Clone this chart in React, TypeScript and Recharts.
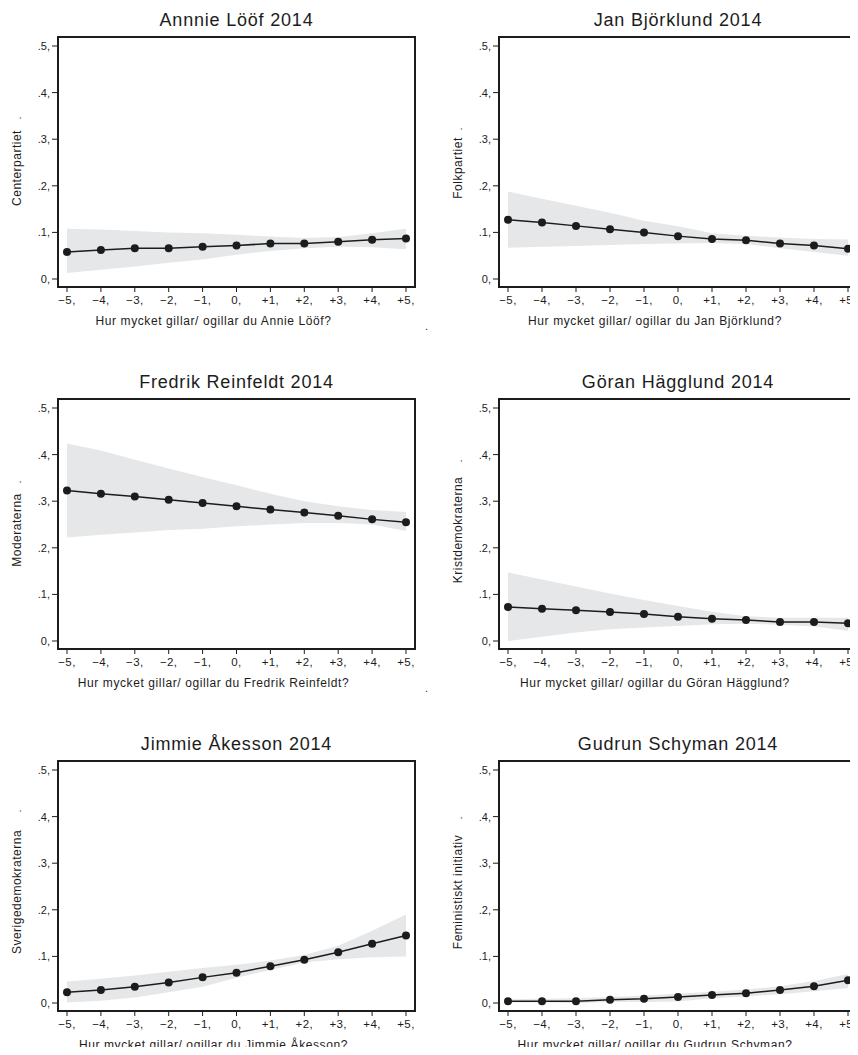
import { ComposedChart, Area, Line, XAxis, YAxis } from 'recharts'

const SCALE = [-5, -4, -3, -2, -1, 0, 1, 2, 3, 4, 5]
const X_TICK_LABELS = ['−5,', '−4,', '−3,', '−2,', '−1,', '0,', '+1,', '+2,', '+3,', '+4,', '+5,']
const Y_TICKS = [0, 0.1, 0.2, 0.3, 0.4, 0.5]
const Y_TICK_LABELS = ['0,', '.1,', '.2,', '.3,', '.4,', '.5,']

const TITLES = [
  'Annnie Lööf 2014',
  'Jan Björklund 2014',
  'Fredrik Reinfeldt 2014',
  'Göran Hägglund 2014',
  'Jimmie Åkesson 2014',
  'Gudrun Schyman 2014',
]
const PARTIES = [
  'Centerpartiet',
  'Folkpartiet',
  'Moderaterna',
  'Kristdemokraterna',
  'Sverigedemokraterna',
  'Feministiskt initiativ',
]
const LEADERS = [
  'Annie Lööf',
  'Jan Björklund',
  'Fredrik Reinfeldt',
  'Göran Hägglund',
  'Jimmie Åkesson',
  'Gudrun Schyman',
]

// predicted share + 95% band
const LOOF_EST = [0.058, 0.062, 0.066, 0.066, 0.069, 0.072, 0.076, 0.076, 0.08, 0.084, 0.087]
const LOOF_LO = [0.013, 0.02, 0.027, 0.035, 0.042, 0.052, 0.06, 0.066, 0.069, 0.068, 0.064]
const LOOF_HI = [0.108, 0.106, 0.103, 0.1, 0.098, 0.095, 0.091, 0.088, 0.09, 0.098, 0.108]

const BJORKLUND_EST = [0.127, 0.121, 0.114, 0.107, 0.1, 0.092, 0.086, 0.083, 0.076, 0.072, 0.065]
const BJORKLUND_LO = [0.067, 0.069, 0.071, 0.073, 0.075, 0.076, 0.077, 0.075, 0.066, 0.058, 0.05]
const BJORKLUND_HI = [0.188, 0.172, 0.157, 0.142, 0.125, 0.113, 0.098, 0.093, 0.089, 0.086, 0.085]

const REINFELDT_EST = [0.323, 0.316, 0.31, 0.303, 0.296, 0.289, 0.282, 0.276, 0.269, 0.261, 0.255]
const REINFELDT_LO = [0.222, 0.228, 0.233, 0.238, 0.241, 0.246, 0.25, 0.253, 0.253, 0.25, 0.236]
const REINFELDT_HI = [0.424, 0.409, 0.389, 0.37, 0.352, 0.334, 0.316, 0.3, 0.289, 0.281, 0.277]

const HAGGLUND_EST = [0.073, 0.069, 0.066, 0.062, 0.058, 0.052, 0.048, 0.045, 0.041, 0.041, 0.038]
const HAGGLUND_LO = [0.0, 0.009, 0.018, 0.025, 0.029, 0.032, 0.036, 0.037, 0.035, 0.031, 0.022]
const HAGGLUND_HI = [0.147, 0.132, 0.117, 0.102, 0.088, 0.075, 0.063, 0.053, 0.05, 0.05, 0.05]

const AKESSON_EST = [0.023, 0.028, 0.035, 0.044, 0.055, 0.065, 0.079, 0.093, 0.109, 0.127, 0.145]
const AKESSON_LO = [0.001, 0.005, 0.012, 0.023, 0.035, 0.054, 0.071, 0.087, 0.094, 0.098, 0.1]
const AKESSON_HI = [0.046, 0.052, 0.059, 0.067, 0.075, 0.082, 0.091, 0.103, 0.123, 0.155, 0.19]

const SCHYMAN_EST = [0.004, 0.004, 0.004, 0.007, 0.009, 0.013, 0.017, 0.021, 0.028, 0.036, 0.049]
const SCHYMAN_LO = [0.001, 0.001, 0.0, 0.002, 0.002, 0.003, 0.01, 0.014, 0.019, 0.025, 0.032]
const SCHYMAN_HI = [0.008, 0.009, 0.01, 0.013, 0.016, 0.02, 0.024, 0.029, 0.036, 0.047, 0.062]

const SERIES = [
  [LOOF_EST, LOOF_LO, LOOF_HI],
  [BJORKLUND_EST, BJORKLUND_LO, BJORKLUND_HI],
  [REINFELDT_EST, REINFELDT_LO, REINFELDT_HI],
  [HAGGLUND_EST, HAGGLUND_LO, HAGGLUND_HI],
  [AKESSON_EST, AKESSON_LO, AKESSON_HI],
  [SCHYMAN_EST, SCHYMAN_LO, SCHYMAN_HI],
]

const FONT = '"Liberation Sans", Arial, Helvetica, sans-serif'
const INK = '#1c1c1c'
const BAND = '#e6e7e8'

// layout of the 3x2 grid
const COLS = [
  { chartX: 0, boxLeft: 58, boxRight: 415, width: 429 },
  { chartX: 430, boxLeft: 499, boxRight: 857, width: 428 },
]
const ROW_TOPS = [0, 362, 724]
const BOX_TOP = 37
const BOX_H = 250
const CHART_H = 331
// distance from y-label centre to the stray dot Stata left behind
const DOT_GAP = [50, 39, 48, 69, 81, 74]

function Panel({ idx }: { idx: number }) {
  const col = COLS[idx % 2]
  const top = ROW_TOPS[Math.floor(idx / 2)]
  const [est, lo, hi] = SERIES[idx]
  const data = SCALE.map((x, i) => ({ x, est: est[i], band: [lo[i], hi[i]] }))
  const left = col.boxLeft - col.chartX
  const right = col.boxRight - col.chartX
  const mid = (left + right) / 2
  const yMid = BOX_TOP + BOX_H / 2 + 6
  const yLabX = left - 37
  const isRight = idx % 2 === 1

  return (
    <div style={{ position: 'absolute', left: col.chartX, top, width: col.width, height: CHART_H }}>
      <ComposedChart
        width={col.width}
        height={CHART_H}
        data={data}
        margin={{ top: BOX_TOP, right: col.width - right, bottom: CHART_H - BOX_TOP - BOX_H - 30, left: 0 }}
      >
        <XAxis
          dataKey="x"
          type="number"
          domain={[-5, 5]}
          ticks={SCALE}
          interval={0}
          padding={{ left: 9, right: 9 }}
          tickFormatter={(v) => X_TICK_LABELS[SCALE.indexOf(v)]}
          tick={{ fontSize: 11.5, fill: INK, fontFamily: FONT, letterSpacing: 0.4 }}
          tickSize={5}
          tickMargin={4}
          height={30}
          axisLine={{ stroke: INK, strokeWidth: 2 }}
          tickLine={{ stroke: INK, strokeWidth: 1 }}
        />
        <YAxis
          type="number"
          domain={[0, 0.5]}
          ticks={Y_TICKS}
          interval={0}
          padding={{ top: 9, bottom: 8 }}
          tickFormatter={(v) => Y_TICK_LABELS[Y_TICKS.indexOf(v)]}
          tick={{ fontSize: 11, fill: INK, fontFamily: FONT }}
          tickSize={6}
          tickMargin={2}
          width={left}
          axisLine={{ stroke: INK, strokeWidth: 2 }}
          tickLine={{ stroke: INK, strokeWidth: 1 }}
        />
        <Area
          type="linear"
          dataKey="band"
          fill={BAND}
          fillOpacity={1}
          stroke="none"
          isAnimationActive={false}
          activeDot={false}
        />
        <Line
          type="linear"
          dataKey="est"
          stroke={INK}
          strokeWidth={1.5}
          dot={{ r: 4, fill: INK, stroke: INK, strokeWidth: 0 }}
          activeDot={false}
          isAnimationActive={false}
        />
      </ComposedChart>
      <svg
        width={col.width}
        height={CHART_H}
        style={{ position: 'absolute', left: 0, top: 0, pointerEvents: 'none' }}
        fontFamily={FONT}
        fill={INK}
      >
        <rect
          x={left}
          y={BOX_TOP}
          width={right - left}
          height={BOX_H}
          fill="none"
          stroke={INK}
          strokeWidth={2}
        />
        <text x={mid} y={26} textAnchor="middle" fontSize={18} letterSpacing={0.8}>
          {TITLES[idx]}
        </text>
        <text
          x={mid - 23}
          y={BOX_TOP + BOX_H + 38}
          textAnchor="middle"
          fontSize={12}
          letterSpacing={0.6}
        >
          {`Hur mycket gillar/ ogillar du ${LEADERS[idx]}?`}
        </text>
        {!isRight && (
          <text x={right + 10} y={BOX_TOP + BOX_H + 43} fontSize={11}>
            .
          </text>
        )}
        <text
          x={yLabX}
          y={yMid}
          textAnchor="middle"
          fontSize={12}
          letterSpacing={0.5}
          transform={`rotate(-90 ${yLabX} ${yMid})`}
        >
          {PARTIES[idx]}
        </text>
        <text
          x={yLabX}
          y={yMid - DOT_GAP[idx]}
          textAnchor="middle"
          fontSize={11}
          transform={`rotate(-90 ${yLabX} ${yMid - DOT_GAP[idx]})`}
        >
          .
        </text>
      </svg>
    </div>
  )
}

export default function App() {
  return (
    <div style={{ position: 'relative', width: 858, height: 1055, margin: -8, background: '#fff', overflow: 'hidden' }}>
      {TITLES.map((_, i) => (
        <Panel key={i} idx={i} />
      ))}
    </div>
  )
}
